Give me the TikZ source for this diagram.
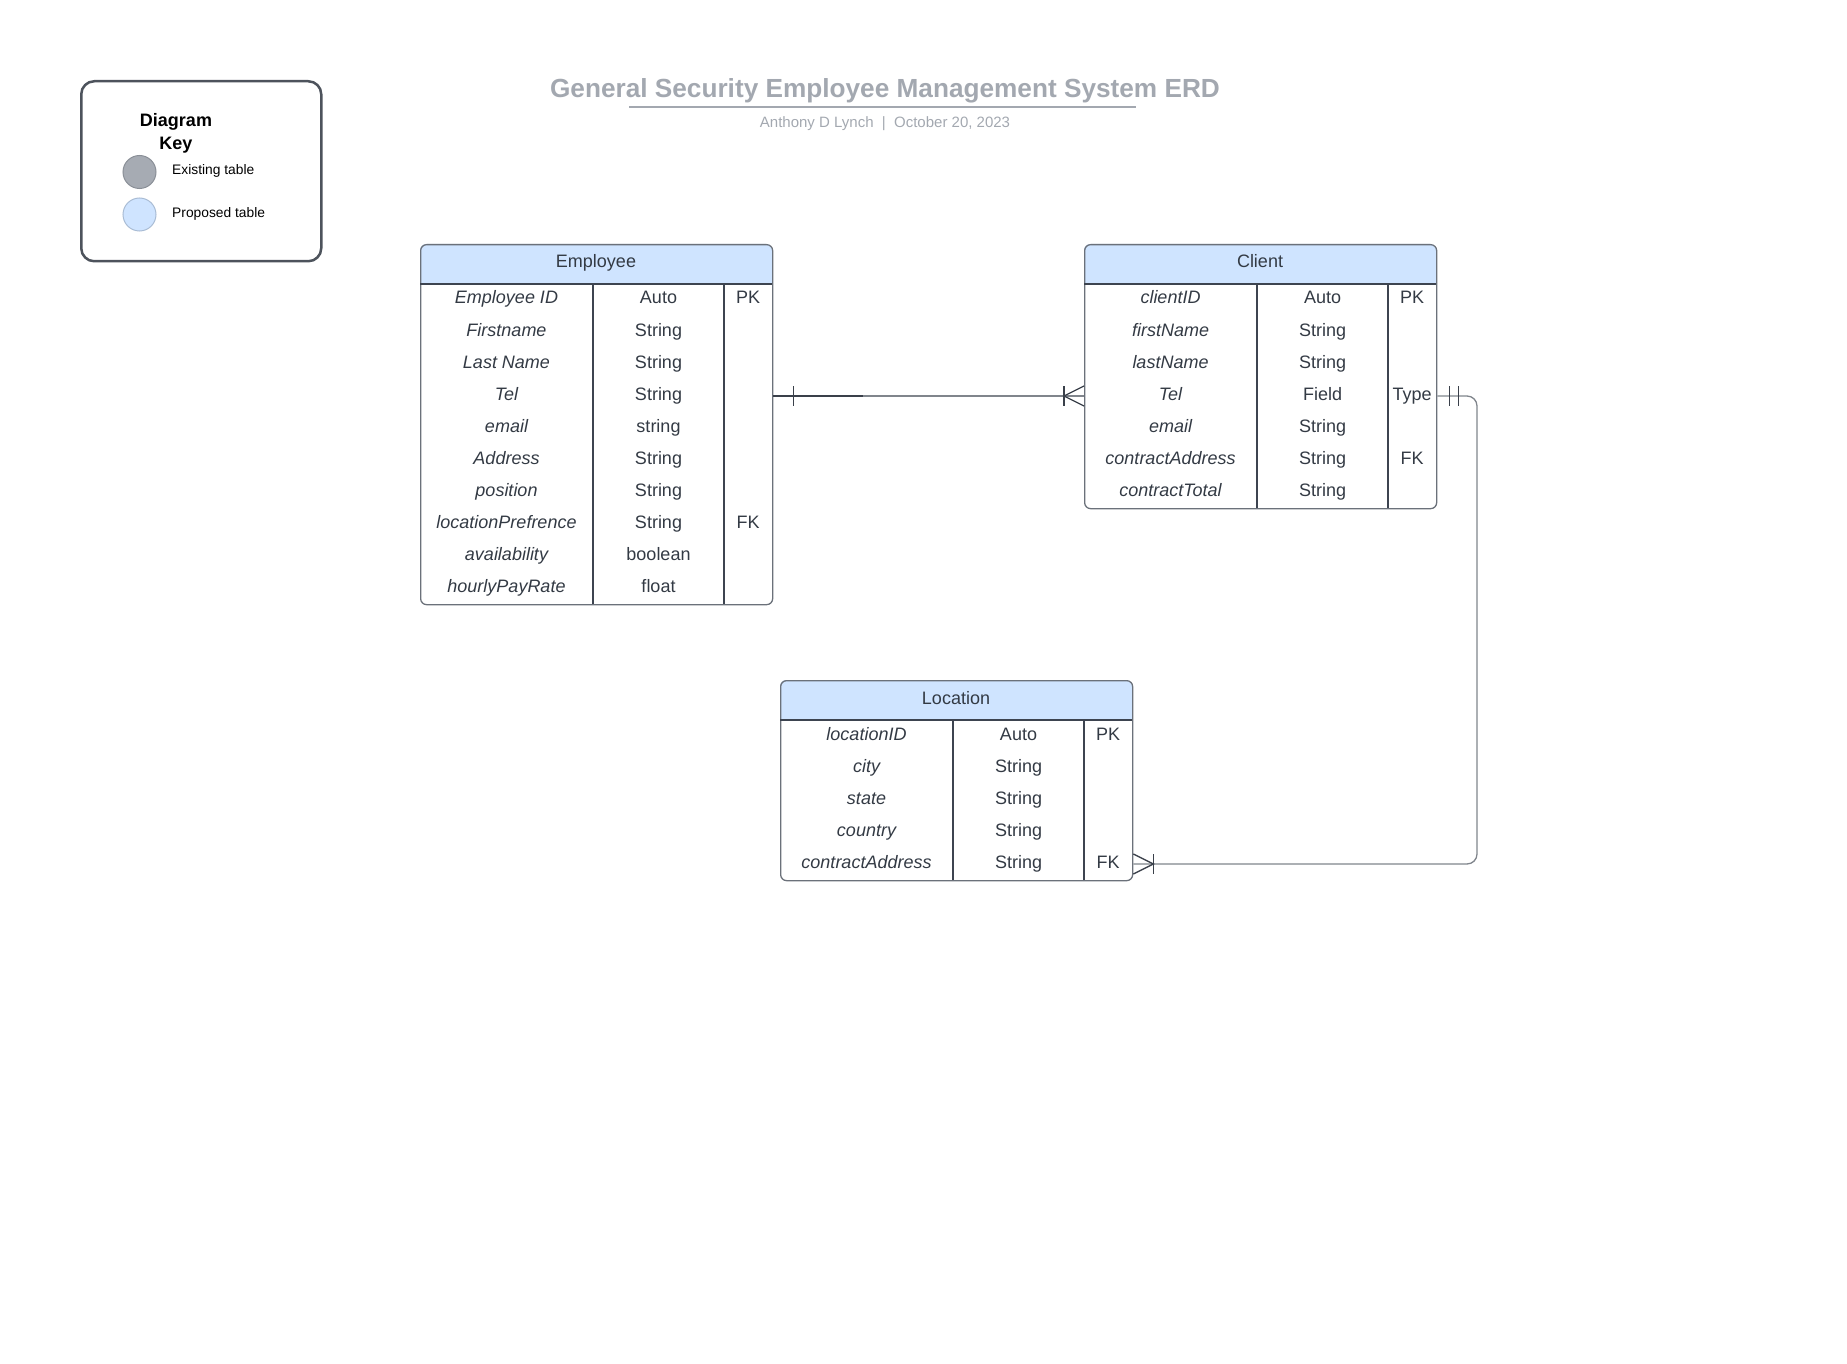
\documentclass[tikz,border=0pt]{standalone}
\usepackage{fontspec}
\setmainfont{Liberation Sans}
\definecolor{headblue}{HTML}{CFE4FF}
\definecolor{outerln}{HTML}{6B717A}
\definecolor{innerln}{HTML}{3D4450}
\definecolor{txt}{HTML}{333A44}
\definecolor{titlegray}{HTML}{A3A8B0}
\definecolor{connln}{HTML}{80858C}
\definecolor{markln}{HTML}{3A404A}
\definecolor{keygray}{HTML}{A6ABB3}
\definecolor{keygrayln}{HTML}{8A8F97}
\definecolor{keyblueln}{HTML}{A9BCD4}
\definecolor{keyln}{HTML}{4D535C}
\begin{document}
\begin{tikzpicture}[x=1pt,y=-1pt,
  tbl/.style={draw=outerln, line width=1.3pt, rounded corners=6pt, rectangle, inner sep=0pt, anchor=north west},
  inner/.style={draw=innerln, line width=1.2pt},
  cellA/.style={anchor=base, inner sep=0pt, text=txt, font=\fontsize{18}{22}\selectfont\itshape},
  cellB/.style={anchor=base, inner sep=0pt, text=txt, font=\fontsize{18}{22}\selectfont},
  headtxt/.style={anchor=base, inner sep=0pt, text=txt, font=\fontsize{18}{22}\selectfont},
  conn/.style={draw=connln, line width=1.3pt},
  endmark/.style={draw=markln, line width=1.3pt},
  keytxt/.style={anchor=base west, inner sep=0pt, text=black, font=\fontsize{13.8}{16}\selectfont},
  keydot/.style={circle, minimum size=33pt, inner sep=0pt, line width=1pt}
]
\useasboundingbox (0,0) rectangle (1847,1364);

% ---------- title ----------
\node[anchor=base, inner sep=0pt, text=titlegray, font=\fontsize{26.2}{30}\selectfont\bfseries] (title) at (885,98) {General Security Employee Management System ERD};
\draw[draw=titlegray, line width=2pt] (629,107) -- (1136,107);
\node[anchor=base, inner sep=0pt, text=titlegray, font=\fontsize{15}{18}\selectfont] (subtitle) at (885,128) {Anthony D Lynch\ \ |\ \ October 20, 2023};

% ---------- key ----------
\node[draw=keyln, line width=2.5pt, rounded corners=13pt, rectangle, minimum width=240pt, minimum height=180pt, anchor=north west] (key) at (80,80) {};
\node[anchor=base, inner sep=0pt, font=\fontsize{18}{22}\selectfont\bfseries] (keyt1) at (176,127) {Diagram};
\node[anchor=base, inner sep=0pt, font=\fontsize{18}{22}\selectfont\bfseries] (keyt2) at (176,150) {Key};
\node[keydot, fill=keygray, draw=keygrayln] (dot1) at (139.5,172) {};
\node[keydot, fill=headblue, draw=keyblueln] (dot2) at (139.5,214.5) {};
\node[keytxt] (key1) at (172,175) {Existing table};
\node[keytxt] (key2) at (172,218) {Proposed table};

% ---------- Employee ----------
\begin{scope}
  \clip (420,244) rectangle (772,284);
  \fill[headblue, rounded corners=6pt] (420,244) rectangle (772,604);
\end{scope}
\node[tbl, minimum width=352pt, minimum height=360pt] (emp) at (420,244) {};
\draw[inner] (420,284) -- (772,284);
\draw[inner] (593,284) -- (593,604);
\draw[inner] (724,284) -- (724,604);
\node[headtxt] (emp-title) at (596,268) {Employee};
\foreach \i/\a/\b/\c in {1/Employee ID/Auto/PK, 2/Firstname/String/, 3/Last Name/String/, 4/Tel/String/, 5/email/string/, 6/Address/String/, 7/position/String/, 8/locationPrefrence/String/FK, 9/availability/boolean/, 10/hourlyPayRate/float/}{
  \node[cellA] (emp-a\i) at (506.5,{272+32*\i}) {\a};
  \node[cellB] (emp-b\i) at (658.5,{272+32*\i}) {\b};
  \node[cellB] (emp-c\i) at (748,{272+32*\i}) {\c};
}

% ---------- Client ----------
\begin{scope}
  \clip (1084,244) rectangle (1436,284);
  \fill[headblue, rounded corners=6pt] (1084,244) rectangle (1436,508);
\end{scope}
\node[tbl, minimum width=352pt, minimum height=264pt] (cli) at (1084,244) {};
\draw[inner] (1084,284) -- (1436,284);
\draw[inner] (1257,284) -- (1257,508);
\draw[inner] (1388,284) -- (1388,508);
\node[headtxt] (cli-title) at (1260,268) {Client};
\foreach \i/\a/\b/\c in {1/clientID/Auto/PK, 2/firstName/String/, 3/lastName/String/, 4/Tel/Field/Type, 5/email/String/, 6/contractAddress/String/FK, 7/contractTotal/String/}{
  \node[cellA] (cli-a\i) at (1170.5,{272+32*\i}) {\a};
  \node[cellB] (cli-b\i) at (1322.5,{272+32*\i}) {\b};
  \node[cellB] (cli-c\i) at (1412,{272+32*\i}) {\c};
}

% ---------- Location ----------
\begin{scope}
  \clip (780,680) rectangle (1132,720);
  \fill[headblue, rounded corners=6pt] (780,680) rectangle (1132,880);
\end{scope}
\node[tbl, minimum width=352pt, minimum height=200pt] (loc) at (780,680) {};
\draw[inner] (780,720) -- (1132,720);
\draw[inner] (953,720) -- (953,880);
\draw[inner] (1084,720) -- (1084,880);
\node[headtxt] (loc-title) at (956,704) {Location};
\foreach \i/\a/\b/\c in {1/locationID/Auto/PK, 2/city/String/, 3/state/String/, 4/country/String/, 5/contractAddress/String/FK}{
  \node[cellA] (loc-a\i) at (866.5,{708+32*\i}) {\a};
  \node[cellB] (loc-b\i) at (1018.5,{708+32*\i}) {\b};
  \node[cellB] (loc-c\i) at (1108,{708+32*\i}) {\c};
}

% ---------- connector anchors ----------
\coordinate (empTel) at (emp.east |- 0,396);
\coordinate (cliTelL) at (cli.west |- 0,396);
\coordinate (cliTelR) at (cli.east |- 0,396);
\coordinate (locCA) at (loc.east |- 0,864);

% Employee -- Client  (one  --  one or many)
\draw[conn] (empTel) -- (cliTelL);
\draw[endmark] (empTel) -- ++(90,0);
\draw[endmark] ([xshift=20pt]empTel) ++(0,-10) -- ++(0,20);
\draw[endmark] ([xshift=-20pt]cliTelL) ++(0,-10) -- ++(0,20);
\draw[endmark] (cliTelL) ++(0,-10) -- ++(-20,10) -- ++(20,10);

% Client -- Location (one and only one -- one or many)
\draw[conn, rounded corners=10pt] (cliTelR) -- (1477,396) -- (1477,864) -- (locCA);
\draw[endmark] ([xshift=12pt]cliTelR) ++(0,-10) -- ++(0,20);
\draw[endmark] ([xshift=21pt]cliTelR) ++(0,-10) -- ++(0,20);
\draw[endmark] (locCA) ++(0,-10) -- ++(20,10) -- ++(-20,10);
\draw[endmark] ([xshift=20pt]locCA) ++(0,-10) -- ++(0,20);
\end{tikzpicture}
\end{document}
